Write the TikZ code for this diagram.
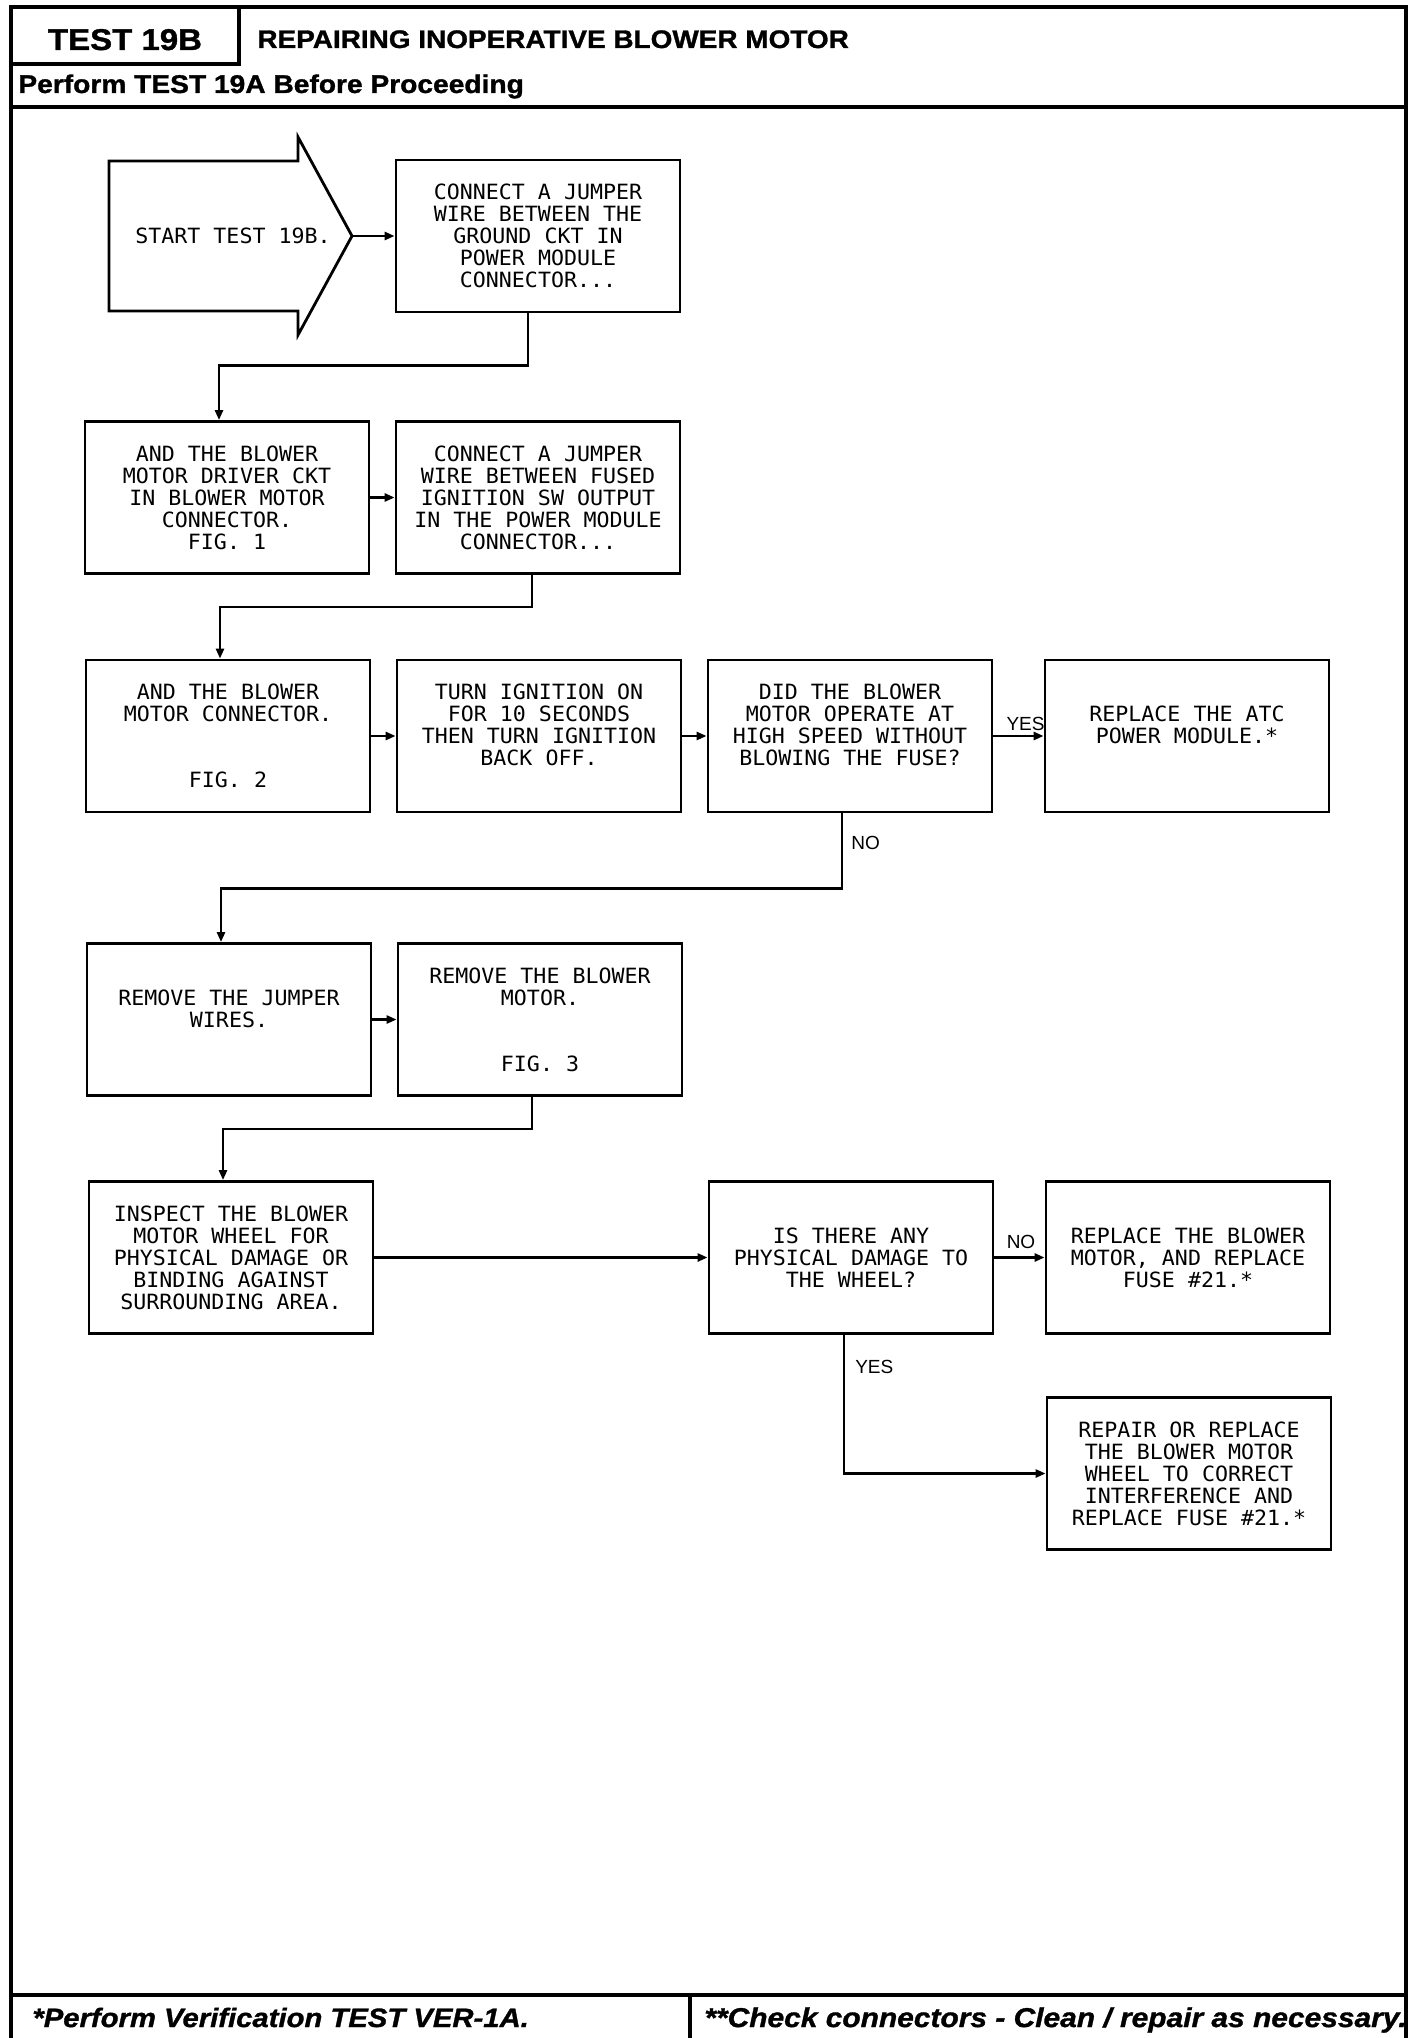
\documentclass[tikz,border=0pt]{standalone}
\usepackage{fontspec}
\setmainfont{Liberation Sans}
\newfontfamily\boxfont{DejaVu Sans Mono}[FakeStretch=1.03]
\newfontfamily\headfont{Liberation Sans}[FakeStretch=1.1,BoldFeatures={FakeBold=1.2},BoldItalicFeatures={FakeBold=1.2}]
\usetikzlibrary{arrows.meta}

\begin{document}
\begin{tikzpicture}[x=0.5pt,y=-0.5pt,
  stepbox/.style={draw,line width=1.4pt,minimum width=142pt,minimum height=76pt,inner sep=0pt,align=center,font=\boxfont\fontsize{10.5}{11}\selectfont},
  flow/.style={line width=1.3pt,-{Triangle[length=5pt,width=4pt]}},
  frame/.style={line width=2pt},
  lbl/.style={font=\fontsize{9.5}{10}\selectfont,inner sep=1pt}]
\useasboundingbox (0,0) rectangle (1424,2038);

\draw[frame] (11,2045) -- (11,7) -- (1406,7) -- (1406,2045);
\draw[frame] (11,64) -- (239,64) -- (239,7);
\draw[frame] (11,107) -- (1406,107);
\draw[frame] (11,1995) -- (1406,1995);
\draw[frame] (690,1995) -- (690,2045);

\node[anchor=base,inner sep=0pt,font=\headfont\bfseries\fontsize{15}{15}\selectfont] at (125,50) (test) {TEST 19B};
\node[anchor=base west,inner sep=0pt,font=\headfont\bfseries\fontsize{12.7}{12.7}\selectfont] at (257,48) (title) {REPAIRING INOPERATIVE BLOWER MOTOR};
\node[anchor=base west,inner sep=0pt,font=\headfont\bfseries\fontsize{12.8}{12.8}\selectfont] at (18,93) (pre) {Perform TEST 19A Before Proceeding};
\node[anchor=base west,inner sep=0pt,font=\headfont\bfseries\itshape\fontsize{13.3}{13.3}\selectfont] at (32,2027) (ver) {*Perform Verification TEST VER-1A.};
\node[anchor=base west,inner sep=0pt,font=\headfont\bfseries\itshape\fontsize{13.6}{13.6}\selectfont] at (704,2027) (chk) {**Check connectors - Clean / repair as necessary.};

\coordinate (tip) at (352,236);
\draw[line width=1.4pt] (109,161) -- (298,161) -- (298,137) -- (tip) -- (298,335) -- (298,311) -- (109,311) -- cycle;
\node[font=\boxfont\fontsize{10.5}{11}\selectfont] at (233,236) (start) {START TEST 19B.};

\node[stepbox] at (538,236)    (b1)  {CONNECT A JUMPER\\WIRE BETWEEN THE\\GROUND CKT IN\\POWER MODULE\\CONNECTOR...};
\node[stepbox] at (227,497.5)  (b2)  {AND THE BLOWER\\MOTOR DRIVER CKT\\IN BLOWER MOTOR\\CONNECTOR.\\FIG. 1};
\node[stepbox] at (538,497.5)  (b3)  {CONNECT A JUMPER\\WIRE BETWEEN FUSED\\IGNITION SW OUTPUT\\IN THE POWER MODULE\\CONNECTOR...};
\node[stepbox] at (228,736)    (b4)  {AND THE BLOWER\\MOTOR CONNECTOR.\\~\\~\\FIG. 2};
\node[stepbox] at (539,736)    (b5)  {TURN IGNITION ON\\FOR 10 SECONDS\\THEN TURN IGNITION\\BACK OFF.\\~};
\node[stepbox] at (850,736)    (b6)  {DID THE BLOWER\\MOTOR OPERATE AT\\HIGH SPEED WITHOUT\\BLOWING THE FUSE?\\~};
\node[stepbox] at (1187,736)   (b7)  {REPLACE THE ATC\\POWER MODULE.*\\~};
\node[stepbox] at (229,1019.5) (b8)  {REMOVE THE JUMPER\\WIRES.\\~};
\node[stepbox] at (540,1019.5) (b9)  {REMOVE THE BLOWER\\MOTOR.\\~\\~\\FIG. 3};
\node[stepbox] at (231,1257.5) (b10) {INSPECT THE BLOWER\\MOTOR WHEEL FOR\\PHYSICAL DAMAGE OR\\BINDING AGAINST\\SURROUNDING AREA.};
\node[stepbox] at (851,1257.5) (b11) {IS THERE ANY\\PHYSICAL DAMAGE TO\\THE WHEEL?};
\node[stepbox] at (1188,1257.5) (b12) {REPLACE THE BLOWER\\MOTOR, AND REPLACE\\FUSE \#21.*};
\node[stepbox] at (1189,1473.5) (b13) {REPAIR OR REPLACE\\THE BLOWER MOTOR\\WHEEL TO CORRECT\\INTERFERENCE AND\\REPLACE FUSE \#21.*};

\coordinate (c13) at ([xshift=-3.5pt]b11.south |- b13.west);

\draw[flow] (tip) -- (b1);
\draw[flow] ([xshift=-5pt]b1.south) -- ++(0,-26pt) -| ([xshift=-4pt]b2.north);
\draw[flow] (b2) -- (b3);
\draw[flow] ([xshift=-3pt]b3.south) -- ++(0,-16pt) -| ([xshift=-4pt]b4.north);
\draw[flow] (b4) -- (b5);
\draw[flow] (b5) -- (b6);
\draw[flow] (b6) -- node[lbl,above=1pt,pos=0.64] {YES} (b7);
\draw[flow] ([xshift=-4pt]b6.south) -- node[lbl,right=3pt,pos=0.4] {NO} ++(0,-37.5pt) -| ([xshift=-4pt]b8.north);
\draw[flow] (b8) -- (b9);
\draw[flow] ([xshift=-4pt]b9.south) -- ++(0,-16pt) -| ([xshift=-4pt]b10.north);
\draw[flow] (b10) -- (b11);
\draw[flow] (b11) -- node[lbl,above=3pt,pos=0.53] {NO} (b12);
\draw[flow] ([xshift=-3.5pt]b11.south) -- node[lbl,right=4pt,pos=0.23] {YES} (c13) -- (b13.west);
\end{tikzpicture}
\end{document}
